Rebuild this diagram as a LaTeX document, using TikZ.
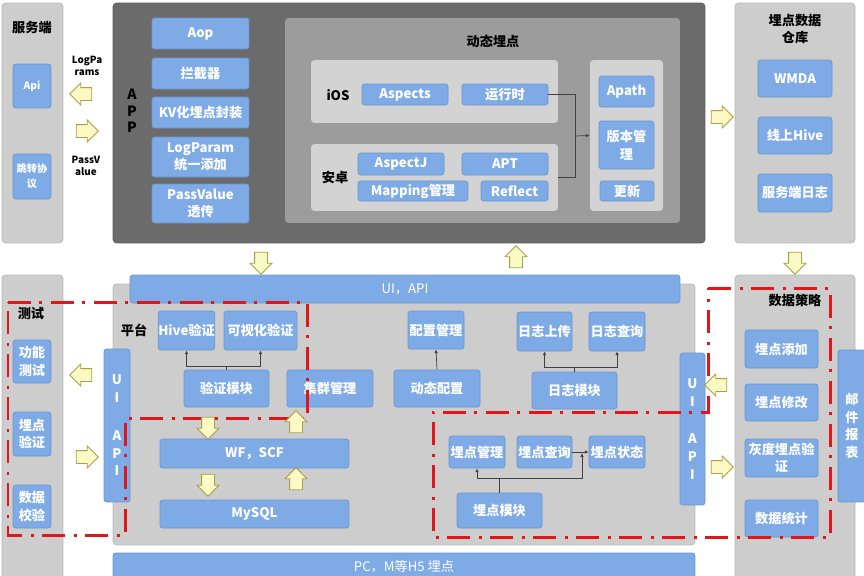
\documentclass[tikz,border=0pt]{standalone}
\usepackage{fontspec}
\setmainfont{Noto Sans CJK SC}
\usetikzlibrary{shapes.arrows,arrows.meta}
\definecolor{boxblue}{HTML}{7EAAE6}
\definecolor{boxedge}{HTML}{6A96D2}
\definecolor{panelgray}{HTML}{CDCDCD}
\definecolor{paneledge}{HTML}{B8B8B8}
\definecolor{appgray}{HTML}{6B6B6B}
\definecolor{dyngray}{HTML}{9C9C9C}
\definecolor{subgray}{HTML}{D3D3D3}
\definecolor{arrowfill}{HTML}{FBF9C4}
\definecolor{arrowedge}{HTML}{A89F48}
\definecolor{zonered}{HTML}{E0161B}
\begin{document}
\begin{tikzpicture}[
        x=0.02cm, y=-0.02cm,
        panel/.style={draw=paneledge, fill=panelgray, rounded corners=2pt, inner sep=0pt},
        apppanel/.style={draw=appgray!85!black, fill=appgray, rounded corners=2pt, inner sep=0pt},
        dynpanel/.style={fill=dyngray, rounded corners=2pt, inner sep=0pt},
        subpanel/.style={fill=subgray, rounded corners=2pt, inner sep=0pt},
        blk/.style={draw=boxedge, fill=boxblue, rounded corners=1.5pt, text=white, align=center, inner sep=0pt,
            font=\bfseries\fontsize{7.5}{10}\selectfont},
        smallblk/.style={blk, font=\bfseries\fontsize{5.8}{8.5}\selectfont},
        bar/.style={draw=boxedge, fill=boxblue, rounded corners=1.5pt, text=white, inner sep=0pt,
            font=\fontsize{7.5}{10}\selectfont},
        vbar/.style={blk, font=\bfseries\fontsize{7.5}{10.2}\selectfont},
        title/.style={text=black, align=center, inner sep=0pt, font=\bfseries\fontsize{7.5}{10}\selectfont},
        note/.style={text=black, align=center, inner sep=0pt, font=\bfseries\fontsize{5.6}{6.8}\selectfont},
        conn/.style={draw=black!75, line width=0.4pt},
        tip/.style={conn, -{Latex[length=2.2pt,width=2pt]}},
        bigarrow/.style={single arrow, draw=arrowedge, fill=arrowfill, line width=0.5pt,
            minimum height=0.44cm, inner xsep=0pt, inner ysep=0.12cm, single arrow head extend=0.09cm},
        zone/.style={draw=zonered, line width=0.06cm,
            dash pattern=on 0.46cm off 0.17cm on 0.06cm off 0.17cm}
    ]
    \useasboundingbox (0,0) rectangle (864,575);
    % 服务端
    \node[panel, minimum width=1.22cm, minimum height=4.8cm] (srv) at (32.5,123) {};
    \node[title] (srvtitle) at (32,28) {服务端};
    \node[smallblk, minimum width=0.76cm, minimum height=0.88cm] (api) at (32,86) {Api};
    \node[smallblk, minimum width=0.76cm, minimum height=0.9cm] (jump) at (32,176.5) {跳转协\\议};
    \node[note] (logparams) at (87,66) {LogPa\\rams};
    \node[note] (passvalue) at (86,166) {PassV\\alue};
    % APP
    \node[apppanel, minimum width=11.84cm, minimum height=4.8cm] (app) at (409,123) {};
    \node[title, font=\bfseries\fontsize{8}{9.4}\selectfont] (apptitle) at (132,111) {A\\P\\P};
    \node[blk, minimum width=1.94cm, minimum height=0.62cm] (aop) at (200.5,33.5) {Aop};
    \node[blk, minimum width=1.94cm, minimum height=0.62cm] (lanjie) at (200.5,73.5) {拦截器};
    \node[blk, minimum width=1.94cm, minimum height=0.62cm] (kv) at (200.5,112.5) {KV化埋点封装};
    \node[blk, minimum width=1.94cm, minimum height=0.8cm] (logparam) at (200.5,157) {LogParam\\统一添加};
    \node[blk, minimum width=1.94cm, minimum height=0.78cm] (pass) at (200.5,203.5) {PassValue\\透传};
    % 动态埋点
    \node[dynpanel, minimum width=7.9cm, minimum height=4.1cm] (dyn) at (482.5,120.5) {};
    \node[title] (dyntitle) at (493,41) {动态埋点};
    \node[subpanel, minimum width=4.94cm, minimum height=1.26cm] (ios) at (434.5,91.5) {};
    \node[title] (iostitle) at (338,95) {iOS};
    \node[blk, minimum width=1.72cm, minimum height=0.42cm] (aspects) at (405,94.5) {Aspects};
    \node[blk, minimum width=1.72cm, minimum height=0.42cm] (runtime) at (505,94.5) {运行时};
    \node[subpanel, minimum width=4.94cm, minimum height=1.34cm] (android) at (434.5,177.5) {};
    \node[title] (androidtitle) at (335,178) {安卓};
    \node[blk, minimum width=1.72cm, minimum height=0.44cm] (aspectj) at (401,164) {AspectJ};
    \node[blk, minimum width=1.72cm, minimum height=0.44cm] (apt) at (505,164) {APT};
    \node[blk, minimum width=2.2cm, minimum height=0.4cm] (mapping) at (413,191) {Mapping管理};
    \node[blk, minimum width=1.34cm, minimum height=0.4cm] (reflect) at (514.5,191) {Reflect};
    \node[subpanel, minimum width=1.46cm, minimum height=3.02cm] (apathpanel) at (626.5,135.5) {};
    \node[blk, minimum width=1.1cm, minimum height=0.62cm] (apath) at (626.5,91.5) {Apath};
    \node[blk, minimum width=1.1cm, minimum height=0.96cm] (version) at (626.5,145) {版本管\\理};
    \node[blk, minimum width=1.08cm, minimum height=0.4cm] (update) at (627,191) {更新};
    \coordinate (dynjoin) at (575,136);
    \draw[conn] (runtime.east) -| (dynjoin);
    \draw[conn] (android.east) -| (dynjoin);
    \draw[tip] (dynjoin) -- (apathpanel.west);
    % 埋点数据仓库
    \node[panel, minimum width=2.4cm, minimum height=4.8cm] (ware) at (795,123) {};
    \node[title] (waretitle) at (795,29) {埋点数据\\仓库};
    \node[blk, minimum width=1.48cm, minimum height=0.74cm] (wmda) at (795,78.5) {WMDA};
    \node[blk, minimum width=1.48cm, minimum height=0.74cm] (hive) at (795,135.5) {线上Hive};
    \node[blk, minimum width=1.48cm, minimum height=0.76cm] (srvlog) at (795,193) {服务端日志};
    % 测试
    \node[panel, minimum width=1.22cm, minimum height=6.1cm] (test) at (32.5,427.5) {};
    \node[title] (testtitle) at (31,314) {测试};
    \node[blk, minimum width=0.76cm, minimum height=0.86cm] (func) at (32,361.5) {功能\\测试};
    \node[blk, minimum width=0.76cm, minimum height=0.88cm] (mdverify) at (32,434) {埋点\\验证};
    \node[blk, minimum width=0.76cm, minimum height=0.86cm] (datacheck) at (32,506.5) {数据\\校验};
    % 平台
    \node[panel, minimum width=11.64cm, minimum height=5.22cm] (plat) at (404,414.5) {};
    \node[bar, minimum width=11cm, minimum height=0.56cm] (uiapi) at (405,289) {UI，API};
    \node[vbar, minimum width=0.52cm, minimum height=3.06cm] (uileft) at (117,425.5) {U\\I\\[11pt]A\\P\\I};
    \node[title] (plattitle) at (134,330) {平台};
    \node[blk, minimum width=1.1cm, minimum height=0.78cm] (hivev) at (186.5,330.5) {Hive验证};
    \node[blk, minimum width=1.46cm, minimum height=0.78cm] (visv) at (260.5,330.5) {可视化验证};
    \node[blk, minimum width=1.7cm, minimum height=0.74cm] (verifymod) at (226.5,388.5) {验证模块};
    \node[blk, minimum width=1.72cm, minimum height=0.74cm] (cluster) at (330,388.5) {集群管理};
    \node[blk, minimum width=3.78cm, minimum height=0.58cm] (wfscf) at (254.5,453.5) {WF，SCF};
    \node[blk, minimum width=3.78cm, minimum height=0.56cm] (mysql) at (254.5,514) {MySQL};
    \node[blk, minimum width=1.12cm, minimum height=0.76cm] (cfgmgr) at (436,330) {配置管理};
    \node[blk, minimum width=1.72cm, minimum height=0.74cm] (dyncfg) at (437,388.5) {动态配置};
    \node[blk, minimum width=1.1cm, minimum height=0.78cm] (logup) at (544.5,331.5) {日志上传};
    \node[blk, minimum width=1.12cm, minimum height=0.78cm] (logq) at (617,331.5) {日志查询};
    \node[blk, minimum width=1.7cm, minimum height=0.74cm] (logmod) at (574.5,390.5) {日志模块};
    \node[blk, minimum width=1.12cm, minimum height=0.64cm] (mdmgr) at (477,452) {埋点管理};
    \node[blk, minimum width=1.1cm, minimum height=0.64cm] (mdq) at (544.5,452) {埋点查询};
    \node[blk, minimum width=1.12cm, minimum height=0.64cm] (mdstate) at (617,452) {埋点状态};
    \node[blk, minimum width=1.7cm, minimum height=0.7cm] (mdmod) at (499.5,510.5) {埋点模块};
    \node[vbar, minimum width=0.5cm, minimum height=3.04cm] (uiright) at (692.5,429) {U\\I\\[11pt]A\\P\\I};
    \draw[tip] (verifymod.north) -- ++(0,-3) -| (hivev.south);
    \draw[tip] (verifymod.north) -- ++(0,-3) -| (visv.south);
    \draw[tip] (dyncfg.north) -- (cfgmgr.south);
    \draw[tip] (logmod.north) -- ++(0,-4) -| (logup.south);
    \draw[tip] (logmod.north) -- ++(0,-4) -| (logq.south);
    \coordinate (mdjoin) at (582,453);
    \draw[tip] (mdmod.north) -- ++(0,-14) -| (mdmgr.south);
    \draw[tip] (mdmod.north) -- ++(0,-14) -| (mdjoin);
    \draw[tip] (mdq.east) -- (mdstate.west);
    % 数据策略
    \node[panel, minimum width=2.4cm, minimum height=6.1cm] (strat) at (795,427.5) {};
    \node[title] (strattitle) at (795,300) {数据策略};
    \node[blk, minimum width=1.46cm, minimum height=0.76cm] (mdadd) at (781.5,349) {埋点添加};
    \node[blk, minimum width=1.46cm, minimum height=0.74cm] (mdedit) at (781.5,402.5) {埋点修改};
    \node[blk, minimum width=1.46cm, minimum height=0.76cm] (gray) at (781.5,458) {灰度埋点验\\证};
    \node[blk, minimum width=1.46cm, minimum height=0.74cm] (stats) at (781.5,518.5) {数据统计};
    \node[vbar, minimum width=0.56cm, minimum height=3.04cm] (mail) at (852,426) {邮\\件\\报\\表};
    \node[bar, minimum width=11.64cm, minimum height=0.54cm] (pc) at (404,566.5) {PC，M等H5 埋点};
    % 红色区域
    \draw[zone] (8,302) -- (307,302) -- (307,418) -- (125,418) -- (125,535) -- (8,535) -- cycle;
    \draw[zone] (708,288) -- (830,288) -- (830,537) -- (433,537) -- (433,412) -- (708,412) -- cycle;
    % 黄色箭头
    \node[bigarrow, rotate=180] (a1) at (84,94) {};
    \node[bigarrow] (a2) at (84,131) {};
    \node[bigarrow] (a3) at (719,117) {};
    \node[bigarrow, rotate=-90] (a4) at (261,260) {};
    \node[bigarrow, rotate=90] (a5) at (516,260) {};
    \node[bigarrow, rotate=-90] (a6) at (795,260) {};
    \node[bigarrow, rotate=180] (a7) at (84,375) {};
    \node[bigarrow] (a8) at (84,457) {};
    \node[bigarrow, rotate=-90] (a9) at (208,425) {};
    \node[bigarrow, rotate=90] (a10) at (296,425) {};
    \node[bigarrow, rotate=-90] (a11) at (208,482) {};
    \node[bigarrow, rotate=90] (a12) at (296,482) {};
    \node[bigarrow, rotate=180] (a13) at (719,385) {};
    \node[bigarrow] (a14) at (719,467) {};
\end{tikzpicture}
\end{document}
